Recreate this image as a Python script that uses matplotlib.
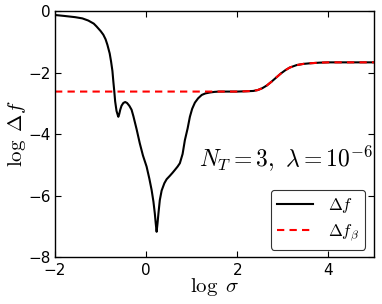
import matplotlib
matplotlib.use("Agg")
import matplotlib.pyplot as plt

plt.rcParams['mathtext.fontset'] = 'cm'

# Delta f (black solid)
x_df = [-2.0, -1.8, -1.56, -1.4, -1.27, -1.15, -1.09, -1.0, -0.94, -0.89, -0.85, -0.80,
        -0.77, -0.74, -0.72, -0.70, -0.68, -0.65, -0.62, -0.61, -0.59, -0.57, -0.54,
        -0.50, -0.46, -0.42, -0.37, -0.32, -0.28, -0.21, -0.14, -0.07, 0.01, 0.07, 0.12,
        0.16, 0.19, 0.21, 0.23, 0.25, 0.27, 0.30, 0.34, 0.40, 0.45, 0.52, 0.58, 0.63,
        0.69, 0.74, 0.80, 0.85, 0.91, 0.96, 1.01, 1.07, 1.14, 1.22, 1.30, 1.40, 1.50,
        1.60, 1.80, 2.00, 2.20, 2.35, 2.45, 2.55, 2.65, 2.75, 2.85, 2.95, 3.05, 3.15,
        3.30, 3.45, 3.60, 3.80, 4.00, 4.50, 5.00]
y_df = [-0.13, -0.16, -0.20, -0.24, -0.31, -0.41, -0.50, -0.65, -0.77, -0.92, -1.10, -1.38,
        -1.64, -1.95, -2.29, -2.60, -2.94, -3.25, -3.40, -3.44, -3.35, -3.22, -3.08,
        -2.99, -2.96, -2.99, -3.08, -3.21, -3.42, -3.84, -4.30, -4.70, -5.06, -5.45, -5.82,
        -6.20, -6.58, -6.90, -7.18, -6.90, -6.58, -6.15, -5.84, -5.60, -5.47, -5.36, -5.26, -5.17,
        -5.06, -4.95, -4.65, -4.20, -3.82, -3.44, -3.18, -2.98, -2.84, -2.73, -2.68, -2.65, -2.63,
        -2.62, -2.62, -2.62, -2.61, -2.60, -2.57, -2.51, -2.42, -2.30, -2.17, -2.04, -1.93, -1.84,
        -1.76, -1.72, -1.70, -1.68, -1.67, -1.67, -1.67]

# Delta f_beta (red dashed)
x_dfb = [-2.0, -1.0, 0.0, 1.0, 1.50, 1.60, 1.80, 2.00, 2.20, 2.35, 2.45, 2.55, 2.65, 2.75,
         2.85, 2.95, 3.05, 3.15, 3.30, 3.45, 3.60, 3.80, 4.00, 4.50, 5.00]
y_dfb = [-2.62, -2.62, -2.62, -2.62, -2.62, -2.62, -2.62, -2.62, -2.61, -2.60, -2.57, -2.51,
         -2.42, -2.30, -2.17, -2.04, -1.93, -1.84, -1.76, -1.72, -1.70, -1.68, -1.67, -1.67, -1.67]

xticks = [-2, 0, 2, 4]
yticks = [0, -2, -4, -6, -8]

fig = plt.figure(figsize=(3.82, 3.04), dpi=100)
ax = fig.add_axes([0.144, 0.1546, 0.835, 0.8092])

ax.plot(x_df, y_df, color='black', lw=1.5, label=r'$\Delta f$')
ax.plot(x_dfb, y_dfb, color='red', lw=1.5, ls=(0, (3.5, 2.5)), label=r'$\Delta f_\beta$')

ax.set_xlim(-2, 5)
ax.set_ylim(-8, 0)
ax.set_xticks(xticks)
ax.set_yticks(yticks)
ax.set_xticklabels([f'\u2212{abs(t)}' if t < 0 else str(t) for t in xticks])
ax.set_yticklabels([f'\u2212{abs(t)}' if t < 0 else str(t) for t in yticks])
ax.tick_params(direction='in', top=True, right=True, length=4, width=0.8,
               labelsize=11)
ax.tick_params(axis='x', pad=4)
ax.tick_params(axis='y', pad=3)
for s in ax.spines.values():
    s.set_linewidth(1.0)

ax.set_xlabel(r'$\log\ \sigma$', fontsize=15, labelpad=-1)
ax.set_ylabel(r'$\log\ \Delta f$', fontsize=15, labelpad=0)

ax.text(0.995, 0.40, r'$N_T=3,\ \lambda=10^{-6}$', transform=ax.transAxes,
        fontsize=17, ha='right', va='center')

leg = ax.legend(loc='lower right', fontsize=12, frameon=True, fancybox=True,
                handlelength=2.2, handletextpad=0.9, borderpad=0.35, labelspacing=0.45,
                bbox_to_anchor=(0.972, 0.03), borderaxespad=0)
leg.get_frame().set_edgecolor('black')
leg.get_frame().set_linewidth(0.8)

fig.savefig('out.png', dpi=100)
